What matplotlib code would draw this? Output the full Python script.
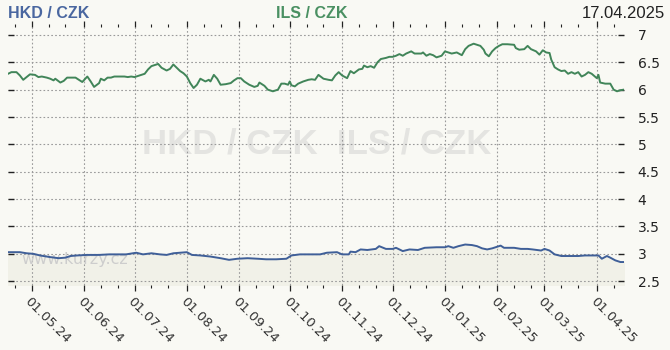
import matplotlib
matplotlib.use('Agg')
import matplotlib.pyplot as plt
import matplotlib.dates as mdates
import pandas as pd

# ILS / CZK
ils_dates = [
    '2024-04-17', '2024-04-19', '2024-04-22', '2024-04-24', '2024-04-26', '2024-04-28', '2024-04-30',
    '2024-05-03', '2024-05-05', '2024-05-07', '2024-05-10', '2024-05-12', '2024-05-14', '2024-05-15',
    '2024-05-18', '2024-05-20', '2024-05-22', '2024-05-27', '2024-05-29', '2024-05-31', '2024-06-03',
    '2024-06-05', '2024-06-07', '2024-06-10', '2024-06-11', '2024-06-13', '2024-06-15', '2024-06-17',
    '2024-06-19', '2024-06-25', '2024-06-27', '2024-06-29', '2024-07-01', '2024-07-04', '2024-07-07',
    '2024-07-09', '2024-07-11', '2024-07-13', '2024-07-15', '2024-07-17', '2024-07-20', '2024-07-22',
    '2024-07-24', '2024-07-26', '2024-07-28', '2024-07-30', '2024-08-01', '2024-08-03', '2024-08-05',
    '2024-08-07', '2024-08-09', '2024-08-12', '2024-08-14', '2024-08-15', '2024-08-17', '2024-08-19',
    '2024-08-21', '2024-08-24', '2024-08-27', '2024-08-29', '2024-08-31', '2024-09-02', '2024-09-04',
    '2024-09-07', '2024-09-10', '2024-09-12', '2024-09-13', '2024-09-16', '2024-09-18', '2024-09-21',
    '2024-09-23', '2024-09-24', '2024-09-26', '2024-09-28', '2024-09-30', '2024-10-01', '2024-10-02',
    '2024-10-04', '2024-10-06', '2024-10-09', '2024-10-12', '2024-10-14', '2024-10-16', '2024-10-18',
    '2024-10-21', '2024-10-24', '2024-10-26', '2024-10-28', '2024-10-30', '2024-11-01', '2024-11-04',
    '2024-11-06', '2024-11-08', '2024-11-11', '2024-11-13', '2024-11-14', '2024-11-16', '2024-11-18',
    '2024-11-20', '2024-11-22', '2024-11-24', '2024-11-27', '2024-11-29', '2024-12-01', '2024-12-03',
    '2024-12-05', '2024-12-07', '2024-12-09', '2024-12-12', '2024-12-14', '2024-12-18', '2024-12-19',
    '2024-12-21', '2024-12-23', '2024-12-25', '2024-12-27', '2024-12-30', '2025-01-01', '2025-01-03',
    '2025-01-05', '2025-01-08', '2025-01-11', '2025-01-13', '2025-01-15', '2025-01-18', '2025-01-20',
    '2025-01-22', '2025-01-24', '2025-01-25', '2025-01-27', '2025-01-29', '2025-01-31', '2025-02-02',
    '2025-02-04', '2025-02-07', '2025-02-11', '2025-02-12', '2025-02-14', '2025-02-17', '2025-02-19',
    '2025-02-21', '2025-02-24', '2025-02-26', '2025-02-28', '2025-03-02', '2025-03-04', '2025-03-05',
    '2025-03-07', '2025-03-09', '2025-03-11', '2025-03-13', '2025-03-15', '2025-03-17', '2025-03-19',
    '2025-03-21', '2025-03-23', '2025-03-25', '2025-03-27', '2025-03-29', '2025-04-01', '2025-04-02',
    '2025-04-03', '2025-04-06', '2025-04-09', '2025-04-11', '2025-04-13', '2025-04-15', '2025-04-17',
]
ils_values = [
    6.29, 6.32, 6.32, 6.26, 6.18, 6.23, 6.28,
    6.27, 6.23, 6.24, 6.22, 6.20, 6.17, 6.20,
    6.13, 6.16, 6.22, 6.22, 6.18, 6.14, 6.24,
    6.15, 6.05, 6.12, 6.20, 6.17, 6.22, 6.22,
    6.24, 6.24, 6.23, 6.24, 6.23, 6.26, 6.29,
    6.37, 6.43, 6.45, 6.47, 6.40, 6.35, 6.38,
    6.46, 6.40, 6.34, 6.30, 6.24, 6.12, 6.03,
    6.09, 6.20, 6.15, 6.18, 6.15, 6.27, 6.20,
    6.09, 6.10, 6.12, 6.17, 6.21, 6.21, 6.15,
    6.09, 6.05, 6.07, 6.13, 6.07, 6.00, 5.97,
    5.99, 6.00, 6.11, 6.11, 6.09, 6.15, 6.08,
    6.06, 6.11, 6.15, 6.18, 6.19, 6.18, 6.27,
    6.20, 6.18, 6.17, 6.26, 6.32, 6.26, 6.21,
    6.34, 6.30, 6.37, 6.38, 6.44, 6.41, 6.43,
    6.40, 6.50, 6.56, 6.58, 6.60, 6.60, 6.62,
    6.65, 6.62, 6.66, 6.70, 6.66, 6.66, 6.68,
    6.62, 6.65, 6.63, 6.59, 6.62, 6.70, 6.68,
    6.66, 6.68, 6.63, 6.74, 6.80, 6.84, 6.82,
    6.80, 6.73, 6.66, 6.61, 6.70, 6.76, 6.80,
    6.83, 6.83, 6.82, 6.76, 6.73, 6.74, 6.80,
    6.74, 6.70, 6.64, 6.72, 6.68, 6.67, 6.55,
    6.41, 6.37, 6.34, 6.35, 6.29, 6.32, 6.29,
    6.32, 6.24, 6.27, 6.32, 6.29, 6.21, 6.27,
    6.13, 6.11, 6.11, 6.00, 5.97, 5.99, 6.00,
]

# HKD / CZK
hkd_dates = [
    '2024-04-17', '2024-04-24', '2024-04-28', '2024-05-02', '2024-05-06', '2024-05-12', '2024-05-17',
    '2024-05-21', '2024-05-24', '2024-05-28', '2024-06-03', '2024-06-10', '2024-06-16', '2024-06-26',
    '2024-07-02', '2024-07-06', '2024-07-11', '2024-07-16', '2024-07-20', '2024-07-24', '2024-07-28',
    '2024-08-01', '2024-08-04', '2024-08-09', '2024-08-15', '2024-08-21', '2024-08-26', '2024-08-31',
    '2024-09-06', '2024-09-12', '2024-09-17', '2024-09-23', '2024-09-29', '2024-10-02', '2024-10-07',
    '2024-10-13', '2024-10-19', '2024-10-23', '2024-10-29', '2024-11-01', '2024-11-05', '2024-11-06',
    '2024-11-09', '2024-11-12', '2024-11-16', '2024-11-21', '2024-11-23', '2024-11-27', '2024-12-01',
    '2024-12-03', '2024-12-07', '2024-12-11', '2024-12-16', '2024-12-20', '2024-12-27', '2025-01-01',
    '2025-01-03', '2025-01-06', '2025-01-09', '2025-01-13', '2025-01-17', '2025-01-20', '2025-01-23',
    '2025-01-26', '2025-01-29', '2025-02-03', '2025-02-05', '2025-02-11', '2025-02-15', '2025-02-19',
    '2025-02-22', '2025-02-27', '2025-03-01', '2025-03-04', '2025-03-07', '2025-03-11', '2025-03-15',
    '2025-03-21', '2025-03-25', '2025-03-30', '2025-04-02', '2025-04-04', '2025-04-07', '2025-04-09',
    '2025-04-12', '2025-04-15', '2025-04-17',
]
hkd_values = [
    3.03, 3.03, 3.01, 3.00, 2.97, 2.94, 2.92,
    2.93, 2.96, 2.97, 2.98, 2.98, 2.99, 2.99,
    3.02, 2.99, 3.01, 2.99, 2.98, 3.01, 3.02,
    3.03, 2.98, 2.97, 2.95, 2.92, 2.89, 2.91,
    2.92, 2.91, 2.90, 2.90, 2.91, 2.97, 2.99,
    2.99, 2.99, 3.02, 3.03, 2.99, 2.99, 3.04,
    3.03, 3.08, 3.07, 3.09, 3.14, 3.09, 3.09,
    3.11, 3.05, 3.08, 3.07, 3.11, 3.12, 3.12,
    3.14, 3.11, 3.14, 3.17, 3.16, 3.14, 3.10,
    3.08, 3.10, 3.15, 3.11, 3.11, 3.09, 3.09,
    3.08, 3.06, 3.09, 3.06, 2.99, 2.96, 2.96,
    2.96, 2.97, 2.97, 2.97, 2.91, 2.96, 2.93,
    2.88, 2.85, 2.85,
]

y_ticks = [2.5, 3, 3.5, 4, 4.5, 5, 5.5, 6, 6.5, 7]
y_tick_labels = ['2.5', '3', '3.5', '4', '4.5', '5', '5.5', '6', '6.5', '7']

bg = '#f9f9f4'
hkd_color = '#3f5f98'
ils_color = '#418559'

ils_x = pd.to_datetime(ils_dates)
hkd_x = pd.to_datetime(hkd_dates)

fig = plt.figure(figsize=(6.7, 3.5), dpi=100, facecolor=bg)
ax = fig.add_axes([0.012, 0.186, 0.919, 0.737], facecolor=bg)

ax.set_ylim(2.432, 7.146)
ax.set_xlim(ils_x[0], ils_x[-1])

ax.fill_between(hkd_x, hkd_values, 2.432, color='#f1f1e8', zorder=1)
ax.plot(hkd_x, hkd_values, color=hkd_color, lw=1.4, zorder=3)
ax.plot(ils_x, ils_values, color=ils_color, lw=1.4, zorder=3)

for s in ax.spines.values():
    s.set_visible(False)

ax.xaxis.set_major_locator(mdates.MonthLocator(bymonthday=1))
ax.xaxis.set_minor_locator(mdates.DayLocator(bymonthday=[11, 21]))
ax.xaxis.set_major_formatter(mdates.DateFormatter('%d.%m.%y'))
ax.tick_params(axis='x', which='major', direction='out', length=4, width=0.9,
               colors='#222222', top=True, labelsize=9.5, pad=3)
ax.tick_params(axis='x', which='minor', direction='out', length=2, width=0.8,
               colors='#222222', top=True)
for lab in ax.get_xticklabels():
    lab.set_rotation(-45)
    lab.set_ha('left')
    lab.set_va('top')
    lab.set_rotation_mode('anchor')
    lab.set_color('#333333')

ax.set_yticks(y_ticks)
ax.set_yticklabels(y_tick_labels)
ax.yaxis.tick_right()
ax.tick_params(axis='y', direction='in', length=4, width=1, colors='#222222',
               left=True, right=True, labelsize=10, pad=10)

ax.grid(True, which='major', color='#9a9a9a', lw=0.8, linestyle=(0, (1.5, 2)))

# watermarks
ax.text(0.502, 0.547, 'HKD / CZK  ILS / CZK', transform=ax.transAxes, ha='center', va='center',
        fontsize=25, fontweight='bold', family='Liberation Sans', color='#e4e4e1', zorder=0)
ax.text(0.022, 0.098, 'www.kurzy.cz', transform=ax.transAxes, ha='left', va='center',
        fontsize=11.5, color='#cdcdcd', zorder=2)

# header
fig.text(8 / 670, 1 - 13 / 350, 'HKD / CZK', ha='left', va='center', fontsize=11.5,
         fontweight='bold', family='Liberation Sans', color='#4a67a0')
fig.text(312 / 670, 1 - 13 / 350, 'ILS / CZK', ha='center', va='center', fontsize=11.5,
         fontweight='bold', family='Liberation Sans', color='#4a9062')
fig.text(665 / 670, 1 - 13 / 350, '17.04.2025', ha='right', va='center', fontsize=12,
         family='Liberation Sans', color='#222222')

fig.savefig('out.png', dpi=100, facecolor=bg)
